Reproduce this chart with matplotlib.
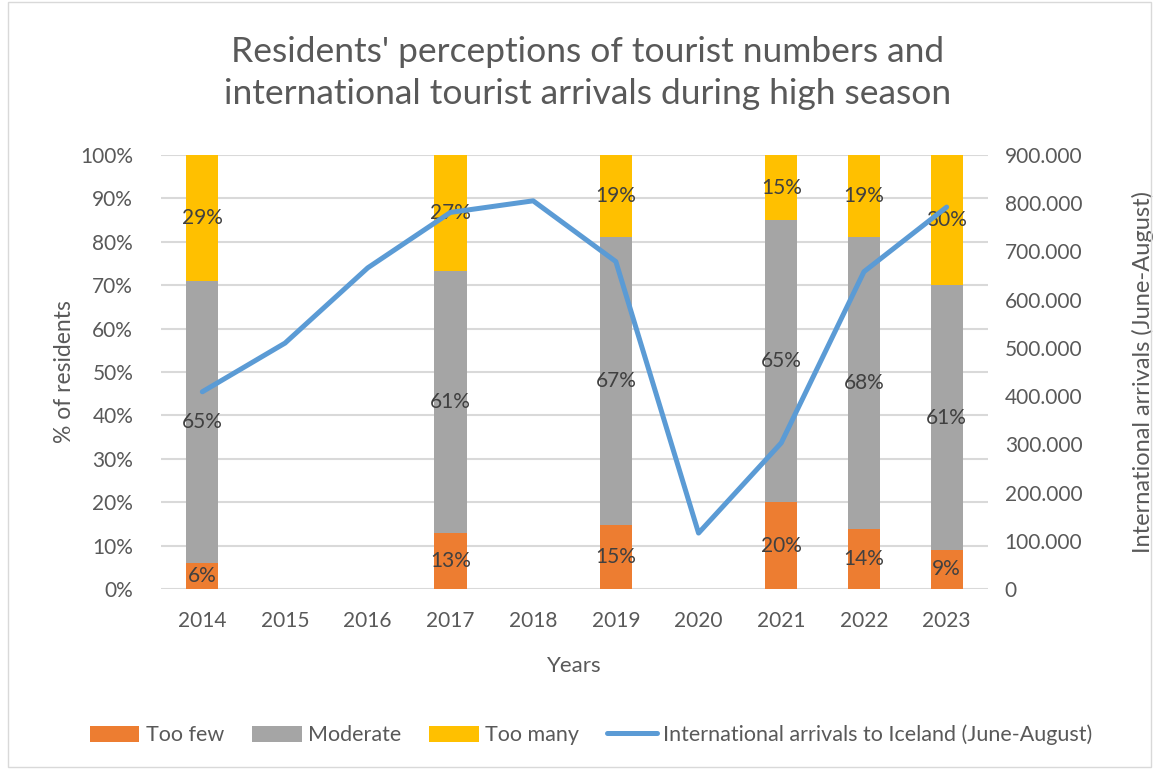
import numpy as np
import matplotlib
matplotlib.use("Agg")
import matplotlib.pyplot as plt
from matplotlib.patches import Rectangle
from matplotlib.ticker import FuncFormatter, MultipleLocator

plt.rcParams['font.family'] = ['Lato', 'DejaVu Sans']

# years on the category axis
years = ['2014', '2015', '2016', '2017', '2018', '2019', '2020', '2021', '2022', '2023']

# survey years and shares of residents (%)
survey_years = ['2014', '2017', '2019', '2021', '2022', '2023']
too_few = [6, 13, 15, 20, 14, 9]
moderate = [65, 61, 67, 65, 68, 61]
too_many = [29, 27, 19, 15, 19, 30]

# international arrivals June-August
arrivals = [409000, 510000, 666000, 781000, 805000, 679000, 116000, 303000, 658000, 792000]

c_few = '#ED7D31'
c_mod = '#A5A5A5'
c_many = '#FFC000'
c_line = '#5B9BD5'
txt = '#595959'
lab = '#404040'

fig = plt.figure(figsize=(11.59, 7.69), dpi=100)
ax = fig.add_axes([161/1159, 1 - 589/769, (988-161)/1159, (589-155)/769])
ax2 = ax.twinx()

x = np.arange(len(years))
xs = np.array([years.index(y) for y in survey_years])
few = np.array(too_few, dtype=float)
mod = np.array(moderate, dtype=float)
many = np.array(too_many, dtype=float)
# 100% stacked: each bar scaled to its total
tot = few + mod + many
f_n = few / tot * 100
m_n = mod / tot * 100
t_n = many / tot * 100

w = 0.39
ax.bar(xs, f_n, w, color=c_few, label='Too few', zorder=2)
ax.bar(xs, m_n, w, bottom=f_n, color=c_mod, label='Moderate', zorder=2)
ax.bar(xs, t_n, w, bottom=f_n + m_n, color=c_many, label='Too many', zorder=2)

# data labels at segment centres (Excel style)
for i in range(len(xs)):
    ax.text(xs[i], f_n[i] / 2, f'{too_few[i]}%', ha='center', va='center', fontsize=15, color=lab, zorder=5)
    ax.text(xs[i], f_n[i] + m_n[i] / 2, f'{moderate[i]}%', ha='center', va='center', fontsize=15, color=lab, zorder=5)
    ax.text(xs[i], f_n[i] + m_n[i] + t_n[i] / 2, f'{too_many[i]}%', ha='center', va='center', fontsize=15, color=lab, zorder=5)

ln, = ax2.plot(x, arrivals, color=c_line, lw=3.6, solid_capstyle='round',
               label='International arrivals to Iceland (June-August)', zorder=3)

ax.set_xlim(-0.5, len(years) - 0.5)
ax.set_ylim(0, 100)
ax2.set_ylim(0, 900000)
ax.yaxis.set_major_locator(MultipleLocator(10))
ax2.yaxis.set_major_locator(MultipleLocator(100000))
ax.yaxis.set_major_formatter(FuncFormatter(lambda v, p: f'{int(v)}%'))
ax2.yaxis.set_major_formatter(FuncFormatter(lambda v, p: '0' if v == 0 else f'{int(v/1000)}.000'))
ax.set_xticks(x)
ax.set_xticklabels(years)

ax.grid(axis='y', color='#D9D9D9', lw=1.5, zorder=0)
ax.set_axisbelow(True)
for a in (ax, ax2):
    for s in a.spines.values():
        s.set_visible(False)
    a.tick_params(length=0, labelsize=15, colors=txt)
ax.tick_params(axis='x', pad=16)
ax.tick_params(axis='y', pad=20)
ax2.tick_params(axis='y', pad=12)

ax.set_xlabel('Years', fontsize=16, color=txt, labelpad=18)
ax.set_ylabel('% of residents', fontsize=16.5, color=txt, labelpad=4)
ax2.set_ylabel('International arrivals (June-August)', fontsize=17, color=txt, labelpad=36)

fig.text(0.507, 1 - 73/769, "Residents' perceptions of tourist numbers and\ninternational tourist arrivals during high season",
         ha='center', va='center', fontsize=25.5, color=txt, linespacing=1.38)

h1, l1 = ax.get_legend_handles_labels()
leg = fig.legend(h1 + [ln], l1 + [ln.get_label()], loc='center', bbox_to_anchor=(0.51, 1 - 735/769),
                 ncol=4, frameon=False, fontsize=15.5, handlelength=2.3, handleheight=0.8,
                 handletextpad=0.3, columnspacing=1.3)
for t in leg.get_texts():
    t.set_color(txt)

fig.patches.append(Rectangle((8/1159, 0.002), 1 - 16/1159, 0.996, transform=fig.transFigure,
                             fill=False, ec='#D9D9D9', lw=1))

fig.savefig('out.png', dpi=100)
